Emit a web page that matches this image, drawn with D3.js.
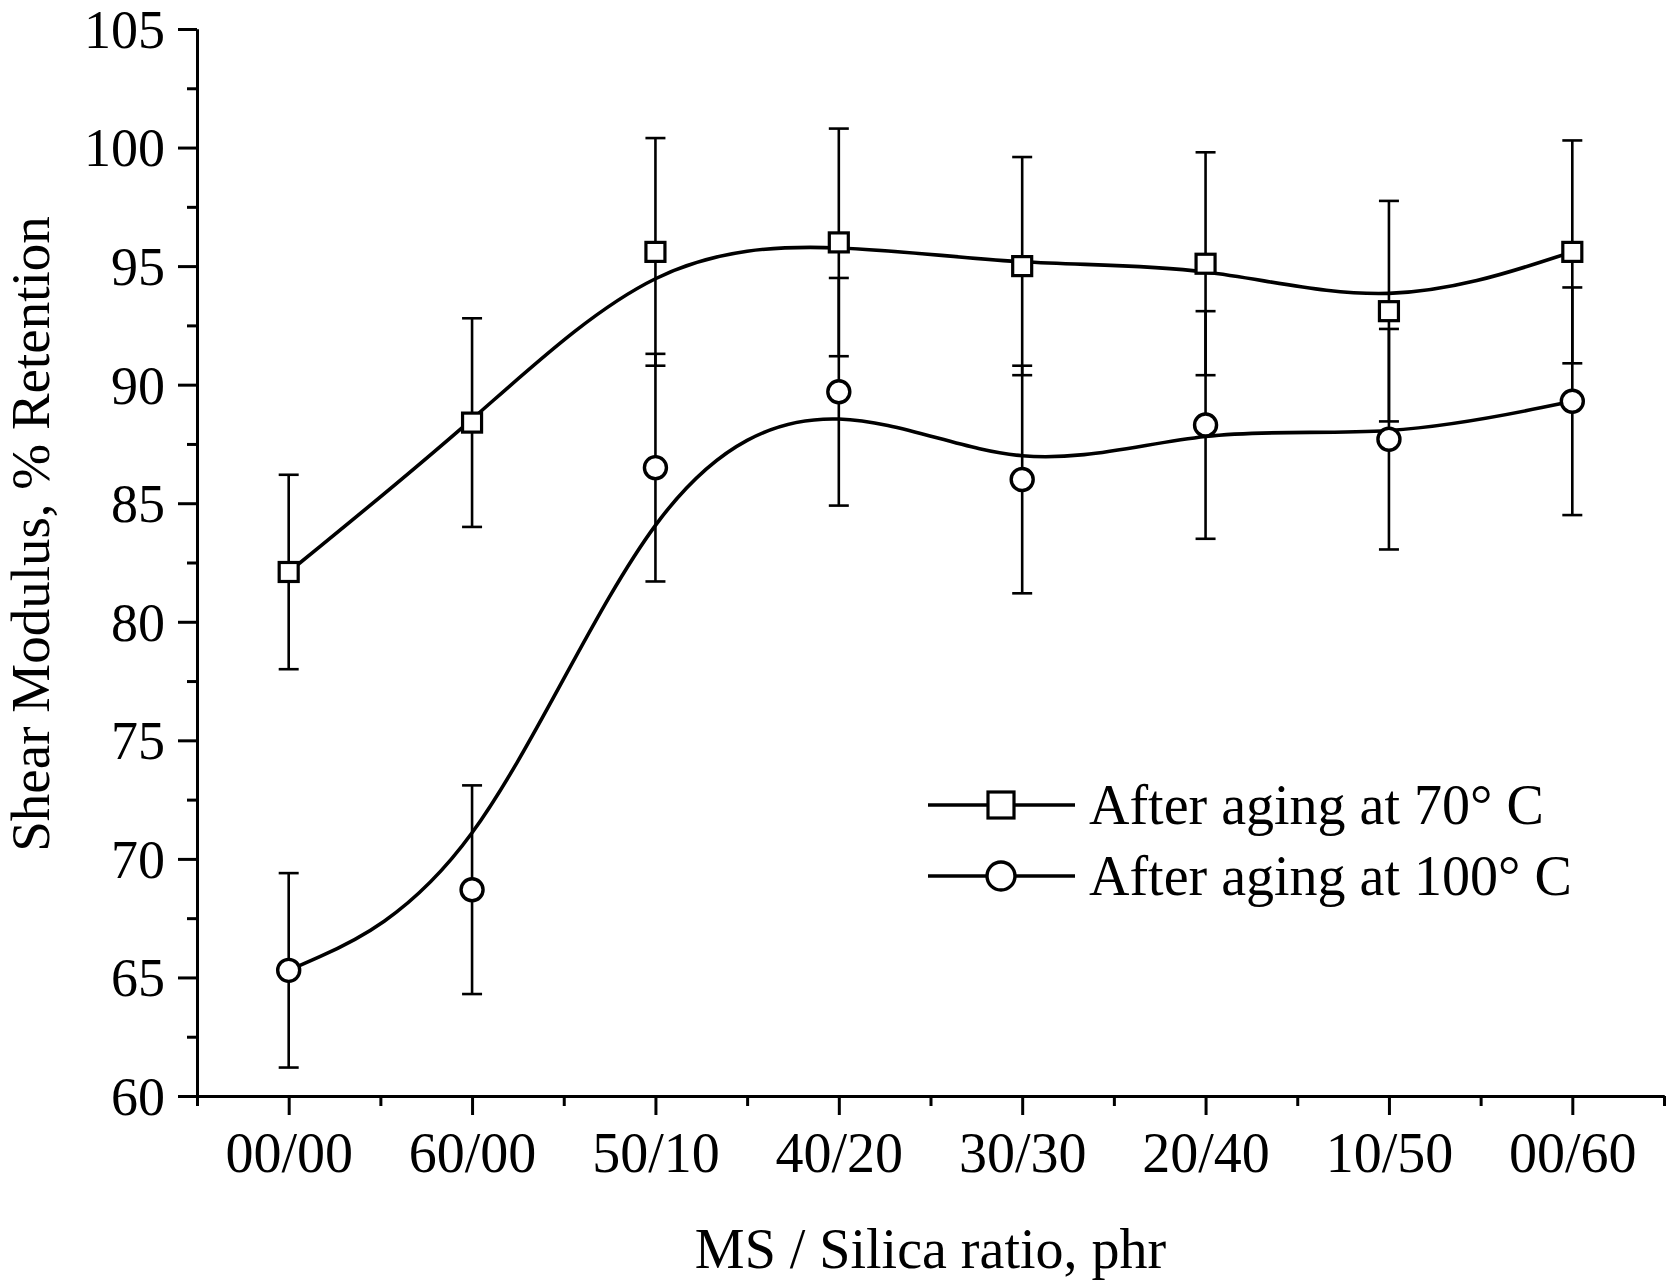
<!DOCTYPE html>
<html>
<head>
<meta charset="utf-8">
<script src="https://cdn.jsdelivr.net/npm/d3@7"></script>
<style>
  html, body { margin: 0; padding: 0; background: #fff; }
  svg { display: block; }
  text { font-family: "Liberation Serif", "Times New Roman", Times, serif; fill: #000; }
</style>
</head>
<body>
<svg id="chart" width="1674" height="1286"></svg>
<script>
// ---- data ----
const categories = ["00/00", "60/00", "50/10", "40/20", "30/30", "20/40", "10/50", "00/60"];
const aging70 = [82.1, 88.4, 95.6, 96.0, 95.0, 95.1, 93.1, 95.6];
const err70   = [4.1, 4.4, 4.8, 4.8, 4.6, 4.7, 4.65, 4.7];
const aging100 = [65.3, 68.7, 86.5, 89.7, 86.0, 88.3, 87.7, 89.3];
const err100   = [4.1, 4.4, 4.8, 4.8, 4.8, 4.8, 4.65, 4.8];
const yMajorTicks = [60, 65, 70, 75, 80, 85, 90, 95, 100, 105];
const seriesNames = ["After aging at 70\u00B0 C", "After aging at 100\u00B0 C"];
const xTitle = "MS / Silica ratio, phr";
const yTitle = "Shear Modulus, % Retention";

(function () {
// ---- layout ----
const svg = d3.select("#chart");
const pL = 197, pR = 1664, pT = 29, pB = 1096;
const FS = 56;

const x = d3.scaleLinear().domain([-0.5, categories.length - 0.5]).range([pL, pR]);
const y = d3.scaleLinear().domain([60, 105]).range([pB, pT]);

// minor ticks
const xMinor = d3.range(categories.length + 1).map(i => i - 0.5);
const yMinor = d3.range(0, 9).map(i => 62.5 + i * 5);

function styleAxis(g, fs) {
  g.selectAll("path.domain").attr("stroke", "#000").attr("stroke-width", 3);
  g.selectAll(".tick line").attr("stroke", "#000").attr("stroke-width", 3);
  g.selectAll("text").style("font-size", (fs || FS) + "px")
    .style("font-family", '"Liberation Serif", "Times New Roman", Times, serif')
    .attr("fill", "#000");
}

// x axis minor
svg.append("g").attr("transform", `translate(0,${pB})`)
  .call(d3.axisBottom(x).tickValues(xMinor).tickSize(10).tickSizeOuter(0).tickFormat(""))
  .call(styleAxis);
// x axis major
svg.append("g").attr("transform", `translate(0,${pB})`)
  .call(d3.axisBottom(x).tickValues(d3.range(categories.length)).tickSize(19).tickSizeOuter(0)
    .tickPadding(17).tickFormat(i => categories[i]))
  .call(styleAxis);

// y axis minor
svg.append("g").attr("transform", `translate(${pL},0)`)
  .call(d3.axisLeft(y).tickValues(yMinor).tickSize(10).tickSizeOuter(0).tickFormat(""))
  .call(styleAxis);
// y axis major
const yAx = svg.append("g").attr("transform", `translate(${pL},0)`)
  .call(d3.axisLeft(y).tickValues(yMajorTicks).tickSize(19).tickSizeOuter(0).tickPadding(13)
    .tickFormat(d3.format("d")))
  .call(g => styleAxis(g, 54));
yAx.selectAll("text").attr("dy", "0.34em");

// axis titles
svg.append("text")
  .attr("x", (pL + pR) / 2).attr("y", 1268)
  .attr("text-anchor", "middle").style("font-size", FS + "px")
  .text(xTitle);
svg.append("text")
  .attr("transform", `translate(49,534) rotate(-90)`)
  .attr("text-anchor", "middle").style("font-size", "55px")
  .text(yTitle);

// ---- series ----
const series = [
  { vals: aging70, errs: err70, shape: "square" },
  { vals: aging100, errs: err100, shape: "circle" }
];

const plot = svg.append("g");
const capW = 20;

// error bars
series.forEach(s => {
  const g = plot.append("g");
  s.vals.forEach((v, i) => {
    const cx = x(i);
    g.append("line").attr("x1", cx).attr("x2", cx)
      .attr("y1", y(v + s.errs[i])).attr("y2", y(v - s.errs[i]))
      .attr("stroke", "#000").attr("stroke-width", 2.6);
    [v + s.errs[i], v - s.errs[i]].forEach(e => {
      g.append("line").attr("x1", cx - capW / 2).attr("x2", cx + capW / 2)
        .attr("y1", y(e)).attr("y2", y(e))
        .attr("stroke", "#000").attr("stroke-width", 2.6);
    });
  });
});

// smooth curves (B-spline)
const line = d3.line().x((d, i) => x(i)).y(d => y(d)).curve(d3.curveBasis);
series.forEach(s => {
  plot.append("path").attr("d", line(s.vals))
    .attr("fill", "none").attr("stroke", "#000").attr("stroke-width", 3.6)
    .attr("stroke-linejoin", "round");
});

function drawMarker(g, shape, cx, cy, size) {
  if (shape === "square") {
    g.append("rect").attr("x", cx - size / 2).attr("y", cy - size / 2)
      .attr("width", size).attr("height", size)
      .attr("fill", "#fff").attr("stroke", "#000").attr("stroke-width", 3.2);
  } else {
    g.append("circle").attr("cx", cx).attr("cy", cy).attr("r", size / 2)
      .attr("fill", "#fff").attr("stroke", "#000").attr("stroke-width", 3.4);
  }
}

// markers
series.forEach(s => {
  const g = plot.append("g");
  s.vals.forEach((v, i) => drawMarker(g, s.shape, x(i), y(v), s.shape === "square" ? 19 : 22));
});

// ---- legend ----
const legend = svg.append("g");
const legRows = [805, 876];
series.forEach((s, k) => {
  const ly = legRows[k];
  legend.append("line").attr("x1", 928).attr("x2", 1075).attr("y1", ly).attr("y2", ly)
    .attr("stroke", "#000").attr("stroke-width", 3.6);
  drawMarker(legend, s.shape, 1001, ly, s.shape === "square" ? 26 : 28);
  legend.append("text").attr("x", 1089).attr("y", ly + 19)
    .style("font-size", FS + "px").text(seriesNames[k]);
});
})();
</script>
</body>
</html>
